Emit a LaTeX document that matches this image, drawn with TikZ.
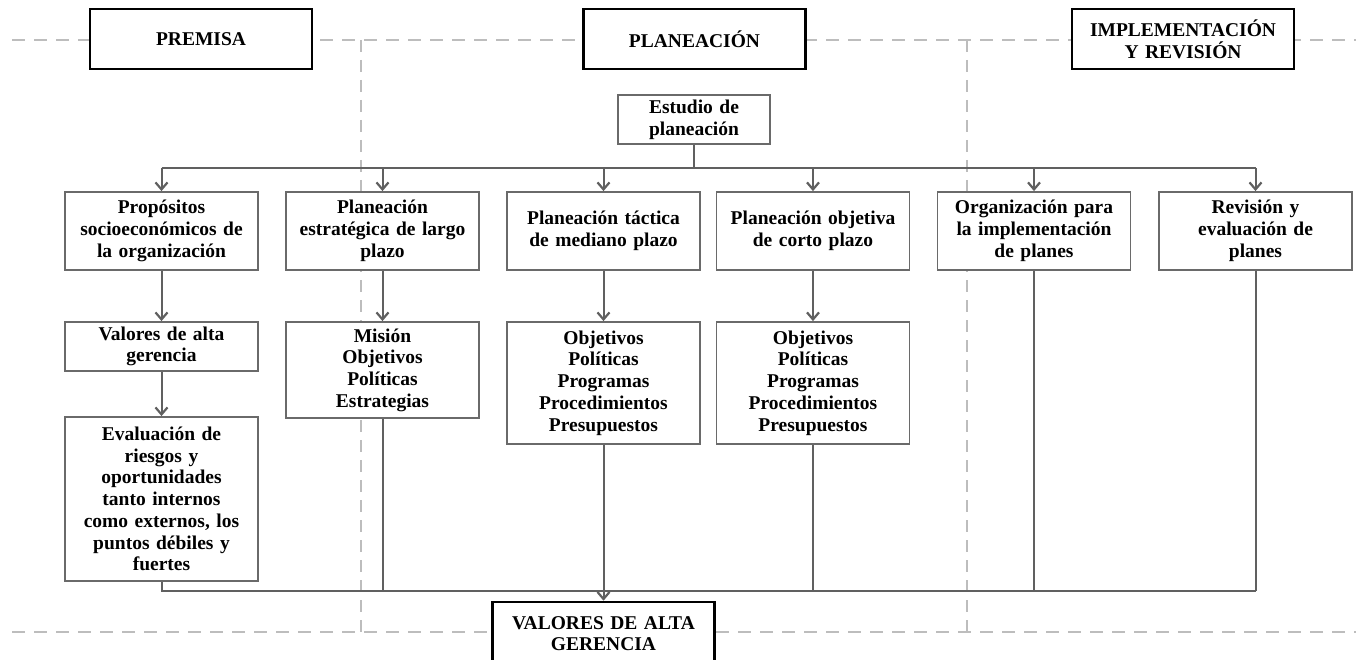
\documentclass[tikz,border=0pt]{standalone}
\usepackage{fontspec}
\setmainfont{Liberation Serif}
\usetikzlibrary{arrows.meta}
\definecolor{linegray}{HTML}{606060}
\definecolor{boxgray}{HTML}{6A6A6A}
\definecolor{dashgray}{HTML}{BDBDBD}
\tikzset{
  txt/.style={font=\fontsize{19.5}{21.7}\selectfont\bfseries, align=center, inner sep=0pt},
  hdr/.style={txt, draw=black, line width=2.6pt, fill=white, text width=204pt, minimum width=222pt, minimum height=60pt},
  stage/.style={txt, draw=boxgray, line width=1.8pt, fill=white, text width=186pt, minimum width=193pt},
  conn/.style={draw=linegray, line width=2pt},
  arr/.style={conn, -{Straight Barb[length=7pt,width=12pt,line width=2.2pt]}},
  guide/.style={draw=dashgray, line width=2.4pt, dash pattern=on 13pt off 9pt},
  vguide/.style={draw=dashgray, line width=2.4pt, dash pattern=on 12pt off 8pt},
}
\begin{document}
\begin{tikzpicture}[x=1pt,y=-1pt]
\useasboundingbox (0,0) rectangle (1356,660);
\clip (0,0) rectangle (1356,660);

% phase separators
\draw[guide] (12,40) -- (1356,40);
\draw[guide] (12,632) -- (1356,632);
\draw[vguide] (361,40) -- (361,632);
\draw[vguide] (967,40) -- (967,632);

% phase headers
\node[hdr] (premisa) at (201,39) {PREMISA};
\node[hdr] (planeacion) at (694.5,39) {PLANEACIÓN};
\node[hdr] (implem) at (1183,39) {IMPLEMENTACIÓN\\Y REVISIÓN};
\node[hdr, minimum height=63pt] (vag) at (603.5,633.5) {VALORES DE ALTA\\GERENCIA};

% planning study
\node[stage, text width=144pt, minimum width=152pt, minimum height=49pt] (estudio) at (694,119.5) {Estudio de\\planeación};

% first row
\node[stage, minimum height=78pt] (prop) at (161.5,231) {Propósitos\\socioeconómicos de\\la organización};
\node[stage, minimum height=78pt] (estr) at (382.5,231) {Planeación\\estratégica de largo\\plazo};
\node[stage, minimum height=78pt] (tact) at (603.5,231) {Planeación táctica\\de mediano plazo};
\node[stage, minimum height=78pt] (obje) at (813,231) {Planeación objetiva\\de corto plazo};
\node[stage, minimum height=78pt] (org) at (1034,231) {Organización para\\la implementación\\de planes};
\node[stage, minimum height=78pt] (rev) at (1255.5,231) {Revisión y\\evaluación de\\planes};

% second row
\node[stage, minimum height=49pt] (valores) at (161.5,346.5) {Valores de alta\\gerencia};
\node[stage, minimum height=96pt] (mision) at (382.5,370) {Misión\\Objetivos\\Políticas\\Estrategias};
\node[stage, minimum height=122pt] (tactdet) at (603.5,383) {Objetivos\\Políticas\\Programas\\Procedimientos\\Presupuestos};
\node[stage, minimum height=122pt] (objedet) at (813,383) {Objetivos\\Políticas\\Programas\\Procedimientos\\Presupuestos};

% third row
\node[stage, minimum height=164pt] (eval) at (161.5,499) {Evaluación de\\riesgos y\\oportunidades\\tanto internos\\como externos, los\\puntos débiles y\\fuertes};

% distribution bus
\coordinate (busT) at (0,168);
\coordinate (busB) at (0,591);
\draw[conn] (estudio.south) -- (estudio.south |- busT);
\draw[conn] (prop.north |- busT) -- (rev.north |- busT);
\foreach \n in {prop,estr,tact,obje,org,rev}
  \draw[arr] (\n.north |- busT) -- (\n.north);

% vertical flows
\draw[arr] (prop) -- (valores);
\draw[arr] (valores) -- (eval);
\draw[arr] (estr) -- (mision);
\draw[arr] (tact) -- (tactdet);
\draw[arr] (obje) -- (objedet);

% collector bus
\draw[conn] (eval.south) -- (eval.south |- busB) -- (rev.south |- busB);
\foreach \n in {mision,objedet,org,rev}
  \draw[conn] (\n.south) -- (\n.south |- busB);
\draw[arr] (tactdet.south) -- (vag.north);
\end{tikzpicture}
\end{document}
